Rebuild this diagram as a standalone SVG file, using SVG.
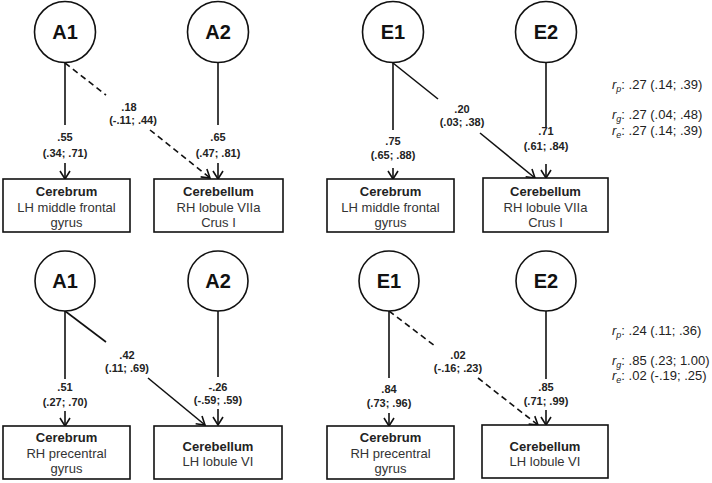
<svg xmlns="http://www.w3.org/2000/svg" width="712" height="483" viewBox="0 0 712 483">
<style>
.bg{fill:#fff}
.circ{fill:#fff;stroke:#111;stroke-width:1.6}
.box{fill:#fff;stroke:#111;stroke-width:1.6}
.lat{font-family:"Liberation Sans",Arial,sans-serif;font-weight:bold;font-size:20px;fill:#111;text-anchor:middle}
.bt{font-family:"Liberation Sans",Arial,sans-serif;font-weight:bold;font-size:13px;fill:#222;text-anchor:middle}
.bn{font-family:"Liberation Sans",Arial,sans-serif;font-size:13px;fill:#333;text-anchor:middle}
.lab{font-family:"Liberation Sans",Arial,sans-serif;font-weight:bold;font-size:11px;fill:#222;text-anchor:middle}
.r{font-family:"Liberation Sans",Arial,sans-serif;font-size:13px;fill:#222}
.ln{stroke:#111;stroke-width:1.6;fill:none}
.dash{stroke-dasharray:6 4}
</style>
<defs>
<marker id="arr" viewBox="0 0 10 12" refX="9" refY="6" markerWidth="10" markerHeight="12" orient="auto" markerUnits="userSpaceOnUse">
<path d="M1,1 L9,6 L1,11" fill="none" stroke="#111" stroke-width="1.6"/>
</marker>
</defs>
<rect class="bg" x="0" y="0" width="712" height="483"/>

<g id="connectors">
<line class="ln" x1="65" y1="63" x2="65" y2="125"/>
<line class="ln" x1="65" y1="163" x2="65" y2="179" marker-end="url(#arr)"/>
<line class="ln dash" x1="65" y1="63" x2="106" y2="95"/>
<line class="ln dash" x1="150" y1="130" x2="210" y2="178" marker-end="url(#arr)"/>
<line class="ln" x1="218" y1="63" x2="218" y2="125"/>
<line class="ln" x1="218" y1="163" x2="218" y2="179" marker-end="url(#arr)"/>
<line class="ln" x1="393" y1="63" x2="393" y2="130"/>
<line class="ln" x1="393" y1="168" x2="393" y2="179" marker-end="url(#arr)"/>
<line class="ln" x1="393" y1="63" x2="438" y2="99"/>
<line class="ln" x1="480" y1="133" x2="535" y2="178" marker-end="url(#arr)"/>
<line class="ln" x1="546" y1="63" x2="546" y2="127"/>
<line class="ln" x1="546" y1="164" x2="546" y2="178" marker-end="url(#arr)"/>
<line class="ln" x1="65" y1="311" x2="65" y2="379"/>
<line class="ln" x1="65" y1="411" x2="65" y2="426" marker-end="url(#arr)"/>
<line class="ln" x1="65" y1="311" x2="106" y2="342"/>
<line class="ln" x1="148" y1="378" x2="205" y2="425" marker-end="url(#arr)"/>
<line class="ln" x1="218" y1="311" x2="218" y2="377"/>
<line class="ln" x1="218" y1="409" x2="218" y2="425" marker-end="url(#arr)"/>
<line class="ln" x1="389" y1="311" x2="389" y2="378"/>
<line class="ln" x1="389" y1="413" x2="389" y2="426" marker-end="url(#arr)"/>
<line class="ln dash" x1="389" y1="311" x2="435" y2="346"/>
<line class="ln dash" x1="478" y1="378" x2="538" y2="425" marker-end="url(#arr)"/>
<line class="ln" x1="546" y1="311" x2="546" y2="379"/>
<line class="ln" x1="546" y1="410" x2="546" y2="425" marker-end="url(#arr)"/>
</g>

<g id="labels">
<text class="lab" x="65" y="141">.55</text>
<text class="lab" x="65" y="157">(.34; .71)</text>
<text class="lab" x="129" y="111">.18</text>
<text class="lab" x="133" y="124">(-.11; .44)</text>
<text class="lab" x="218" y="141">.65</text>
<text class="lab" x="218" y="157">(.47; .81)</text>
<text class="lab" x="393" y="145">.75</text>
<text class="lab" x="393" y="159">(.65; .88)</text>
<text class="lab" x="462" y="113">.20</text>
<text class="lab" x="462" y="126">(.03; .38)</text>
<text class="lab" x="546" y="135">.71</text>
<text class="lab" x="546" y="150">(.61; .84)</text>

<text class="lab" x="65" y="391">.51</text>
<text class="lab" x="65" y="406">(.27; .70)</text>
<text class="lab" x="127" y="359">.42</text>
<text class="lab" x="127" y="372">(.11; .69)</text>
<text class="lab" x="218" y="391">-.26</text>
<text class="lab" x="218" y="404">(-.59; .59)</text>
<text class="lab" x="389" y="393">.84</text>
<text class="lab" x="389" y="407">(.73; .96)</text>
<text class="lab" x="458" y="359">.02</text>
<text class="lab" x="458" y="372">(-.16; .23)</text>
<text class="lab" x="546" y="391">.85</text>
<text class="lab" x="546" y="405">(.71; .99)</text>

<text class="r" x="612" y="89"><tspan font-style="italic">r</tspan><tspan font-style="italic" font-size="9" dy="3">p</tspan><tspan dy="-3">: .27 (.14; .39)</tspan></text>
<text class="r" x="612" y="119"><tspan font-style="italic">r</tspan><tspan font-style="italic" font-size="9" dy="3">g</tspan><tspan dy="-3">: .27 (.04; .48)</tspan></text>
<text class="r" x="612" y="135"><tspan font-style="italic">r</tspan><tspan font-style="italic" font-size="9" dy="3">e</tspan><tspan dy="-3">: .27 (.14; .39)</tspan></text>
<text class="r" x="612" y="335"><tspan font-style="italic">r</tspan><tspan font-style="italic" font-size="9" dy="3">p</tspan><tspan dy="-3">: .24 (.11; .36)</tspan></text>
<text class="r" x="612" y="365"><tspan font-style="italic">r</tspan><tspan font-style="italic" font-size="9" dy="3">g</tspan><tspan dy="-3">: .85 (.23; 1.00)</tspan></text>
<text class="r" x="612" y="380"><tspan font-style="italic">r</tspan><tspan font-style="italic" font-size="9" dy="3">e</tspan><tspan dy="-3">: .02 (-.19; .25)</tspan></text>
</g>

<g id="A1_top"><circle class="circ" cx="65" cy="32" r="30.5"/><text class="lat" x="65" y="39">A1</text></g>
<g id="A2_top"><circle class="circ" cx="218" cy="32" r="30.5"/><text class="lat" x="218" y="39">A2</text></g>
<g id="E1_top"><circle class="circ" cx="393" cy="32" r="30.5"/><text class="lat" x="393" y="39">E1</text></g>
<g id="E2_top"><circle class="circ" cx="546" cy="32" r="30.5"/><text class="lat" x="546" y="39">E2</text></g>

<g id="Cerebrum_top_A"><rect class="box" x="3" y="179" width="127" height="53"/>
<text class="bt" x="66.5" y="196">Cerebrum</text><text class="bn" x="66.5" y="212">LH middle frontal</text><text class="bn" x="66.5" y="227">gyrus</text></g>
<g id="Cerebellum_top_A"><rect class="box" x="154" y="179" width="129" height="53"/>
<text class="bt" x="218.5" y="196">Cerebellum</text><text class="bn" x="218.5" y="212">RH lobule VIIa</text><text class="bn" x="218.5" y="227">Crus I</text></g>
<g id="Cerebrum_top_E"><rect class="box" x="327" y="179" width="127" height="53"/>
<text class="bt" x="390.5" y="196">Cerebrum</text><text class="bn" x="390.5" y="212">LH middle frontal</text><text class="bn" x="390.5" y="227">gyrus</text></g>
<g id="Cerebellum_top_E"><rect class="box" x="483" y="178" width="125" height="54"/>
<text class="bt" x="545.5" y="196">Cerebellum</text><text class="bn" x="545.5" y="212">RH lobule VIIa</text><text class="bn" x="545.5" y="227">Crus I</text></g>

<g id="A1_bot"><circle class="circ" cx="65" cy="281" r="30"/><text class="lat" x="65" y="288">A1</text></g>
<g id="A2_bot"><circle class="circ" cx="218" cy="281" r="30"/><text class="lat" x="218" y="288">A2</text></g>
<g id="E1_bot"><circle class="circ" cx="389" cy="281" r="30"/><text class="lat" x="389" y="288">E1</text></g>
<g id="E2_bot"><circle class="circ" cx="546" cy="281" r="30"/><text class="lat" x="546" y="288">E2</text></g>

<g id="Cerebrum_bot_A"><rect class="box" x="3" y="426" width="127" height="53"/>
<text class="bt" x="66.5" y="442">Cerebrum</text><text class="bn" x="66.5" y="458">RH precentral</text><text class="bn" x="66.5" y="473">gyrus</text></g>
<g id="Cerebellum_bot_A"><rect class="box" x="154" y="426" width="128" height="53"/>
<text class="bt" x="218" y="451">Cerebellum</text><text class="bn" x="218" y="466">LH lobule VI</text></g>
<g id="Cerebrum_bot_E"><rect class="box" x="327" y="426" width="127" height="53"/>
<text class="bt" x="390.5" y="442">Cerebrum</text><text class="bn" x="390.5" y="458">RH precentral</text><text class="bn" x="390.5" y="473">gyrus</text></g>
<g id="Cerebellum_bot_E"><rect class="box" x="482" y="425" width="126" height="53"/>
<text class="bt" x="545" y="451">Cerebellum</text><text class="bn" x="545" y="466">LH lobule VI</text></g>
</svg>
